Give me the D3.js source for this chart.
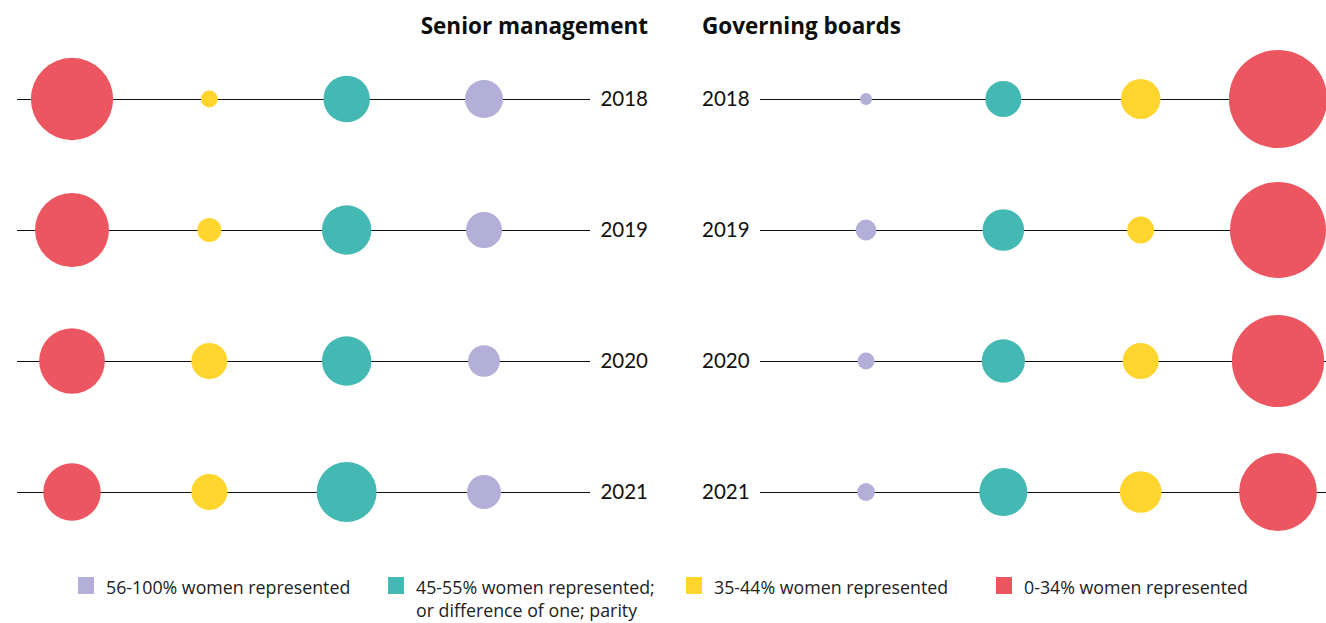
<!DOCTYPE html>
<html>
<head>
<meta charset="utf-8">
<script src="https://cdn.jsdelivr.net/npm/d3@7"></script>
<style>
  html, body { margin: 0; padding: 0; background: #fff; }
  svg { display: block; font-family: "Open Sans", Lato, sans-serif; }
</style>
</head>
<body>
<svg id="chart" width="1326" height="623"></svg>
<script>
// Representation bands, years and counts per band
const years = ["2018", "2019", "2020", "2021"];
const bands = ["56-100", "45-55", "35-44", "0-34"];
const bandLabels = [
  ["56-100% women represented"],
  ["45-55% women represented;", "or difference of one; parity"],
  ["35-44% women represented"],
  ["0-34% women represented"]
];
const bandColors = ["#b3afd8", "#44b8b3", "#ffd52e", "#eb5661"];

// Senior management, one array per band, indexed by year
const seniorBand56_100 = [10, 9, 7, 8];
const seniorBand45_55  = [15, 17, 17, 25];
const seniorBand35_44  = [2, 4, 9, 9];
const seniorBand0_34   = [47, 38, 30, 23];

// Governing boards
const boardBand56_100 = [1, 3, 2, 2.2];
const boardBand45_55  = [9, 12, 13, 16];
const boardBand35_44  = [11, 5, 9, 12];
const boardBand0_34   = [67, 64, 59, 42];

const panels = [
  {
    title: "Senior management",
    order: ["0-34", "35-44", "45-55", "56-100"],
    values: { "56-100": seniorBand56_100, "45-55": seniorBand45_55, "35-44": seniorBand35_44, "0-34": seniorBand0_34 },
    xRange: [72, 484], line: [17, 590], labelX: 648, labelAnchor: "end",
    titleX: 648, titleAnchor: "end"
  },
  {
    title: "Governing boards",
    order: ["56-100", "45-55", "35-44", "0-34"],
    values: { "56-100": boardBand56_100, "45-55": boardBand45_55, "35-44": boardBand35_44, "0-34": boardBand0_34 },
    xRange: [866, 1278], line: [760, 1326], labelX: 702, labelAnchor: "start",
    titleX: 702, titleAnchor: "start"
  }
];

const svg = d3.select("#chart");
const y = d3.scalePoint().domain(years).range([99, 492]);
const r = d3.scaleSqrt().domain([0, 1]).range([0, 6]);
const color = d3.scaleOrdinal().domain(bands).range(bandColors);

panels.forEach(p => {
  const x = d3.scalePoint().domain(p.order).range(p.xRange);
  const g = svg.append("g");

  g.append("text")
    .attr("x", p.titleX).attr("y", 34)
    .attr("text-anchor", p.titleAnchor)
    .attr("font-size", 22.5).attr("font-weight", 700)
    .attr("fill", "#0d0d0d")
    .text(p.title);

  const rows = g.selectAll("g.row").data(years).join("g")
    .attr("class", "row")
    .attr("transform", d => `translate(0,${y(d)})`);

  rows.append("line")
    .attr("x1", p.line[0]).attr("x2", p.line[1])
    .attr("y1", 0.5).attr("y2", 0.5)
    .attr("stroke", "#111").attr("stroke-width", 1)
    .attr("shape-rendering", "crispEdges");

  rows.append("text")
    .attr("x", p.labelX).attr("y", 0).attr("dy", "0.36em")
    .attr("text-anchor", p.labelAnchor)
    .attr("font-family", "Lato, sans-serif")
    .attr("font-size", 20.5).attr("fill", "#111")
    .text(d => d);

  rows.selectAll("circle")
    .data((yr, i) => p.order.map(b => ({ band: b, value: p.values[b][i] })))
    .join("circle")
    .attr("cx", d => x(d.band))
    .attr("cy", 0)
    .attr("r", d => r(d.value))
    .attr("fill", d => color(d.band));
});

// Legend
const legendX = [78, 388, 686, 996];
const legend = svg.append("g");
const items = legend.selectAll("g").data(bands).join("g")
  .attr("transform", (d, i) => `translate(${legendX[i]},577)`);
items.append("rect")
  .attr("width", 16).attr("height", 17)
  .attr("fill", d => color(d));
items.append("text")
  .attr("font-size", 17.8).attr("fill", "#222")
  .selectAll("tspan")
  .data((d, i) => bandLabels[i])
  .join("tspan")
  .attr("x", 28)
  .attr("y", (d, i) => 17 + i * 23)
  .text(d => d);
</script>
</body>
</html>
